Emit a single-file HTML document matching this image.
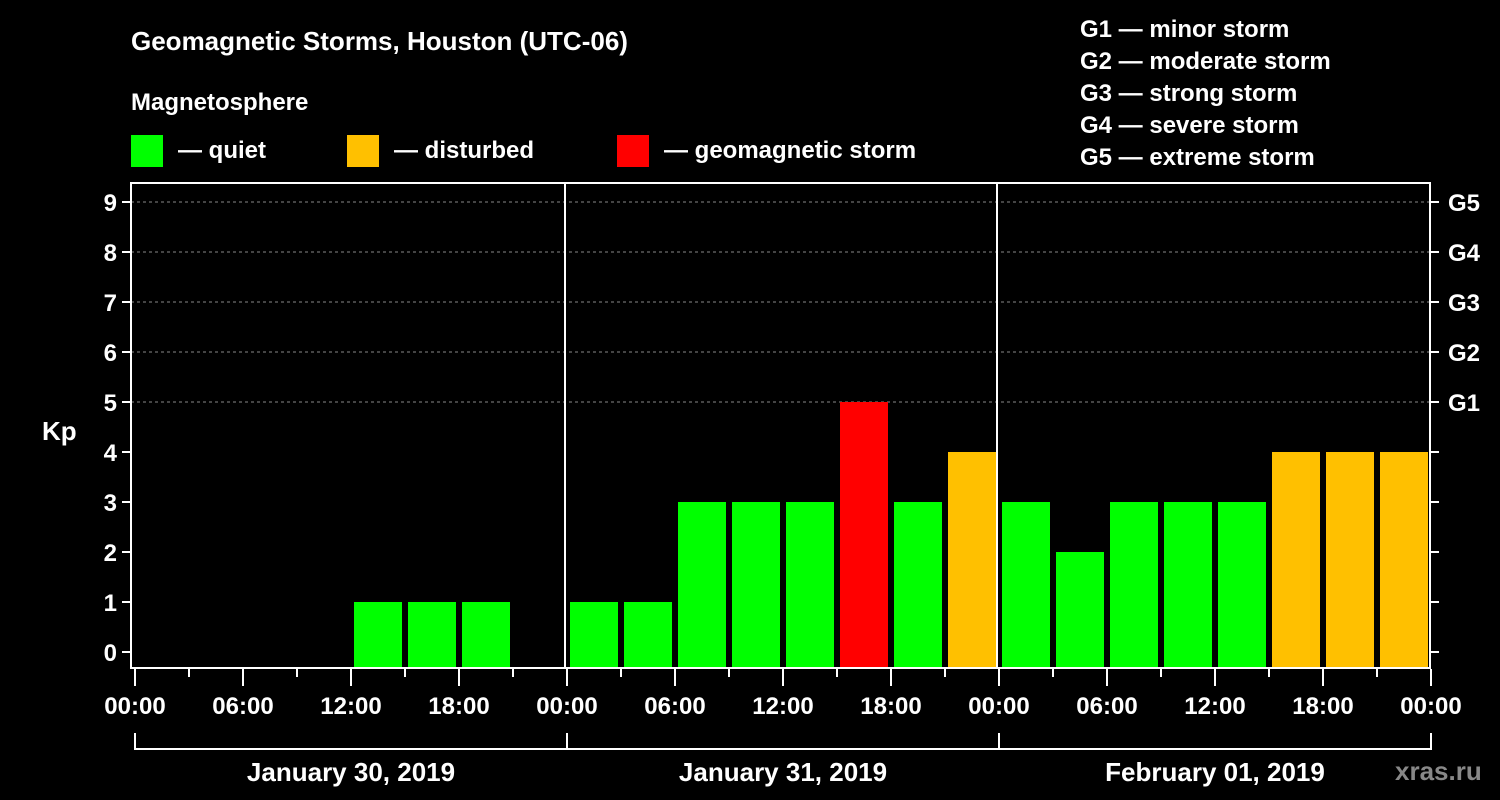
<!DOCTYPE html>
<html><head><meta charset="utf-8"><style>
body{margin:0;background:#000;}
svg{display:block;font-family:"Liberation Sans",Arial,sans-serif;font-weight:bold;}
</style></head><body>
<svg id="c" width="1500" height="800" viewBox="0 0 1500 800">
<rect width="1500" height="800" fill="#000"/>
<text x="131" y="50" fill="#fff" font-size="26">Geomagnetic Storms, Houston (UTC-06)</text>
<text x="131" y="110" fill="#fff" font-size="24">Magnetosphere</text>
<rect x="131" y="135" width="32" height="32" fill="#00ff00"/>
<text x="178" y="158" fill="#fff" font-size="24">— quiet</text>
<rect x="347" y="135" width="32" height="32" fill="#ffc000"/>
<text x="394" y="158" fill="#fff" font-size="24">— disturbed</text>
<rect x="617" y="135" width="32" height="32" fill="#ff0000"/>
<text x="664" y="158" fill="#fff" font-size="24">— geomagnetic storm</text>
<g fill="#fff" font-size="24">
<text x="1080" y="37">G1 — minor storm</text>
<text x="1080" y="69">G2 — moderate storm</text>
<text x="1080" y="101">G3 — strong storm</text>
<text x="1080" y="133">G4 — severe storm</text>
<text x="1080" y="165">G5 — extreme storm</text>
</g>
<text x="42" y="440" fill="#fff" font-size="26">Kp</text>
<text x="1395" y="780" fill="#888" font-size="26">xras.ru</text>
<g id="grid"></g><g id="bars"></g><g id="axes"></g>
</svg>
<script>
const days = ["January 30, 2019","January 31, 2019","February 01, 2019"];
const kpValues = [0,0,0,0,1,1,1,0, 1,1,3,3,3,5,3,4, 3,2,3,3,3,4,4,4];
const yTicks = [0,1,2,3,4,5,6,7,8,9];
const gLabels = ["G1","G2","G3","G4","G5"];
const xTickLabels = ["00:00","06:00","12:00","18:00"];
const NS="http://www.w3.org/2000/svg";
const X0=135, SLOT=54, Y0=652, UNIT=50, LEFT=131, RIGHT=1430, TOP=183, BOT=668;
const xs=i=>X0+i*SLOT, ys=v=>Y0-v*UNIT;
function mk(t,a,p,txt){const e=document.createElementNS(NS,t);for(const k in a)e.setAttribute(k,a[k]);if(txt!=null)e.textContent=txt;p.appendChild(e);return e;}
const grid=document.getElementById('grid'),bars=document.getElementById('bars'),axes=document.getElementById('axes');
yTicks.forEach(v=>{
 if(v>=5){const l=mk('line',{x1:LEFT,x2:RIGHT,y1:ys(v),y2:ys(v),stroke:'#888','stroke-dasharray':'3,3','stroke-width':1},grid);
 
 }
 const t=mk('line',{x1:LEFT-9,x2:LEFT,y1:ys(v),y2:ys(v),stroke:'#fff','stroke-width':2},axes);
 
 
 const r=mk('line',{x1:RIGHT,x2:RIGHT+9,y1:ys(v),y2:ys(v),stroke:'#fff','stroke-width':2},axes);
 
 
 const lb=mk('text',{x:LEFT-14,y:ys(v)+9,fill:'#fff','font-size':24,'text-anchor':'end'},axes,String(v));
 
 
});
gLabels.forEach((g,i)=>{
 const t=mk('text',{x:RIGHT+18,y:ys(5+i)+9,fill:'#fff','font-size':24},axes,g);
 
 
});
kpValues.forEach((v,i)=>{
 if(v<=0)return;
 const col=v>=5?'#ff0000':(v>=4?'#ffc000':'#00ff00');
 const b=mk('rect',{x:xs(i)+3,y:ys(v),width:SLOT-6,height:BOT-ys(v),fill:col},bars);
 
 
});
const frame=mk('rect',{x:LEFT,y:TOP,width:RIGHT-LEFT,height:BOT-TOP,fill:'none',stroke:'#fff','stroke-width':2},axes);


for(let d=1;d<days.length;d++){
 const x=xs(d*8)-2;
 const l=mk('line',{x1:x,x2:x,y1:TOP,y2:BOT,stroke:'#fff','stroke-width':2},axes);
 
 
}
for(let i=0;i<=kpValues.length;i++){
 const major=i%2===0;
 const t=mk('line',{x1:xs(i),x2:xs(i),y1:BOT+1,y2:BOT+(major?18:9),stroke:'#fff','stroke-width':2},axes);
 
 
 if(major){
  const lb=mk('text',{x:xs(i),y:714,fill:'#fff','font-size':24,'text-anchor':'middle'},axes,xTickLabels[(i/2)%4]);
  
  
 }
}
const br=mk('line',{x1:xs(0),x2:xs(kpValues.length),y1:749,y2:749,stroke:'#fff','stroke-width':2},axes);


for(let d=0;d<=days.length;d++){
 const l=mk('line',{x1:xs(d*8),x2:xs(d*8),y1:733,y2:750,stroke:'#fff','stroke-width':2},axes);
 
 
}
days.forEach((d,i)=>{
 const t=mk('text',{x:(xs(i*8)+xs(i*8+8))/2,y:781,fill:'#fff','font-size':26,'text-anchor':'middle'},axes,d);
 
 
});
</script>
</body></html>
